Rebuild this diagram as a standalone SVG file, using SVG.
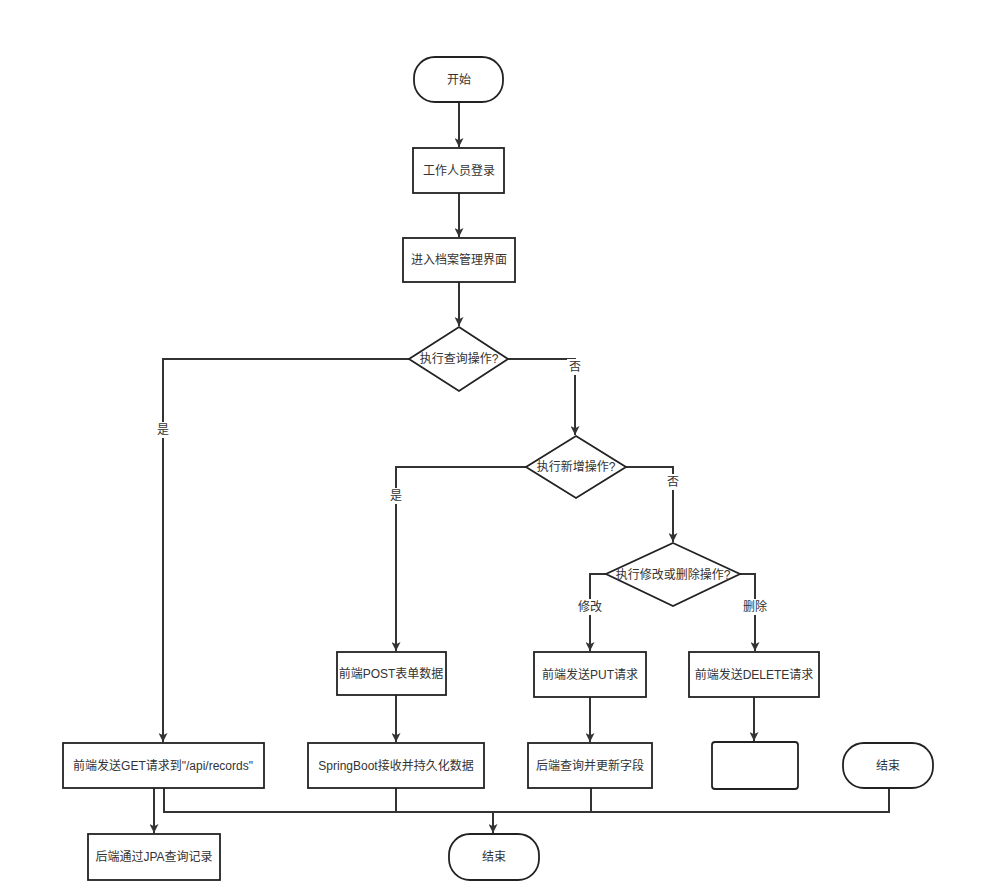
<svg xmlns="http://www.w3.org/2000/svg" width="983" height="892" viewBox="0 0 983 892">
<defs>
<marker id="ah" viewBox="0 0 10 10" refX="10" refY="5" markerWidth="9" markerHeight="9" markerUnits="userSpaceOnUse" orient="auto">
<path d="M0,0 L10,5 L0,10 L2.5,5 Z" fill="#333"/>
</marker>
<style>
.n{fill:#fff;stroke:#222;stroke-width:1.8}
.t{font-family:"Liberation Sans","Noto Sans CJK SC",sans-serif;font-size:12px;fill:#333;text-anchor:middle;dominant-baseline:central}
.c{fill:none;stroke:#333;stroke-width:2}
.a{marker-end:url(#ah)}
.lb{fill:#fff}
</style>
</defs>
<rect width="983" height="892" fill="#fff"/>
<g id="connectors">
<path class="c a" d="M459,102 V147"/>
<path class="c a" d="M459,193 V237"/>
<path class="c a" d="M459,282 V326"/>
<path class="c a" d="M409,359 H163 V742"/>
<path class="c a" d="M508,359 H575 V435"/>
<path class="c a" d="M526,467 H396 V651"/>
<path class="c a" d="M626,467 H673 V542"/>
<path class="c a" d="M606,574 H590 V651"/>
<path class="c a" d="M740,574 H755 V651"/>
<path class="c a" d="M396,695 V742"/>
<path class="c a" d="M590,697 V742"/>
<path class="c a" d="M754,697 V741"/>
<path class="c a" d="M154,788 V833"/>
<path class="c" d="M164,788 V812 H889 V788"/>
<path class="c" d="M396,788 V812"/>
<path class="c" d="M591,788 V812"/>
<path class="c a" d="M493,812 V833"/>
<rect class="lb" x="155" y="422" width="16" height="16"/>
<text class="t" x="163" y="430">是</text>
<rect class="lb" x="567" y="359" width="16" height="16"/>
<text class="t" x="575" y="367">否</text>
<rect class="lb" x="388" y="488" width="16" height="16"/>
<text class="t" x="396" y="496">是</text>
<rect class="lb" x="665" y="474" width="16" height="16"/>
<text class="t" x="673" y="482">否</text>
<rect class="lb" x="577" y="599" width="26" height="16"/>
<text class="t" x="590" y="607">修改</text>
<rect class="lb" x="742" y="599" width="26" height="16"/>
<text class="t" x="755" y="607">删除</text>
</g>
<g id="start"><rect class="n" x="414" y="57" width="89" height="45" rx="21"/><text class="t" x="459" y="80">开始</text></g>
<g id="login"><rect class="n" x="413" y="148" width="91" height="45"/><text class="t" x="459" y="171">工作人员登录</text></g>
<g id="enter"><rect class="n" x="403" y="238" width="112" height="44"/><text class="t" x="459" y="260">进入档案管理界面</text></g>
<g id="d1"><polygon class="n" points="459,327 508,359 459,391 409,359"/><text class="t" x="459" y="359">执行查询操作?</text></g>
<g id="d2"><polygon class="n" points="576,436 626,467 576,498 526,467"/><text class="t" x="576" y="467">执行新增操作?</text></g>
<g id="d3"><polygon class="n" points="673,543 740,574 673,606 606,574"/><text class="t" x="673" y="575">执行修改或删除操作?</text></g>
<g id="post"><rect class="n" x="337" y="652" width="109" height="43"/><text class="t" x="391" y="674">前端POST表单数据</text></g>
<g id="put"><rect class="n" x="534" y="652" width="112" height="45"/><text class="t" x="590" y="675">前端发送PUT请求</text></g>
<g id="delete"><rect class="n" x="689" y="652" width="130" height="45"/><text class="t" x="754" y="675">前端发送DELETE请求</text></g>
<g id="get"><rect class="n" x="63" y="743" width="201" height="45"/><text class="t" x="163" y="766">前端发送GET请求到"/api/records"</text></g>
<g id="persist"><rect class="n" x="308" y="743" width="176" height="45"/><text class="t" x="396" y="766">SpringBoot接收并持久化数据</text></g>
<g id="update"><rect class="n" x="528" y="743" width="124" height="45"/><text class="t" x="590" y="766">后端查询并更新字段</text></g>
<g id="empty"><rect class="n" x="712" y="742" width="86" height="47" rx="3"/></g>
<g id="end2"><rect class="n" x="843" y="743" width="90" height="45" rx="21"/><text class="t" x="888" y="766">结束</text></g>
<g id="jpa"><rect class="n" x="88" y="834" width="132" height="46"/><text class="t" x="154" y="857">后端通过JPA查询记录</text></g>
<g id="end"><rect class="n" x="449" y="834" width="90" height="46" rx="21"/><text class="t" x="494" y="857">结束</text></g>
</svg>
